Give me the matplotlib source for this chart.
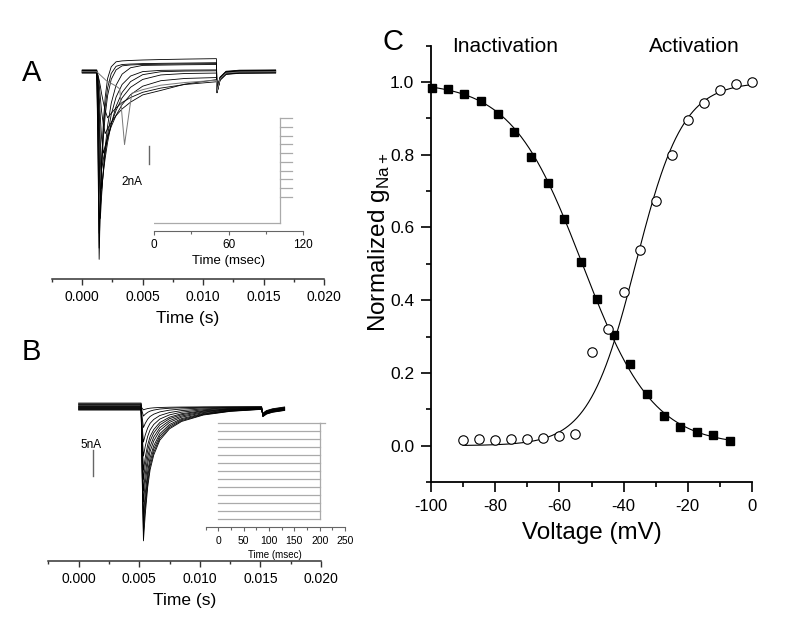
import matplotlib
matplotlib.use('Agg')
import matplotlib.pyplot as plt
import numpy as np
from matplotlib.ticker import MultipleLocator, FormatStrFormatter

plt.rcParams['font.family'] = ['Liberation Sans', 'DejaVu Sans']
plt.rcParams['axes.unicode_minus'] = False

# ---------------- panel A: activation currents (ms, nA) ----------------
a_grid_ms = [0, 1.2, 1.3, 1.4, 1.5, 1.6, 1.75, 1.9, 2.1, 2.4, 2.8, 3.3, 4.0, 5.0, 6.5, 8.5, 11.1]
a_traces = [
    [0, 0, -9.0, -21.0, -14.7, -10.2, -5.7, -3.0, -0.9, 0.4, 0.95, 1.05, 1.1, 1.15, 1.2, 1.25, 1.3],
    [0, 0, -7.0, -19.5, -14.4, -10.5, -6.5, -3.8, -1.7, -0.1, 0.7, 0.9, 0.95, 1.0, 1.03, 1.06, 1.1],
    [0, 0, -5.5, -18.0, -14.0, -10.9, -7.35, -4.9, -2.7, -0.9, 0.15, 0.6, 0.7, 0.75, 0.78, 0.82, 0.85],
    [0, 0, -3.0, -10.0, -16.5, -14.1, -11.0, -8.6, -6.2, -3.7, -1.7, -0.47, 0.24, 0.5, 0.53, 0.57, 0.6],
    [0, 0, -2.5, -8.5, -15.0, -13.2, -10.9, -8.95, -6.9, -4.6, -2.67, -1.27, -0.33, 0.16, 0.3, 0.33, 0.35],
    [0, 0, -1.8, -5.5, -10.0, -13.0, -11.2, -9.6, -7.85, -5.8, -3.85, -2.3, -1.1, -0.33, 0.0, 0.07, 0.1],
    [0, 0, -1.2, -4.0, -8.0, -11.0, -9.8, -8.7, -7.45, -5.9, -4.4, -3.0, -1.83, -0.96, -0.46, -0.3, -0.25],
    [0, 0, -0.8, -2.5, -5.0, -7.3, -9.0, -8.2, -7.25, -6.05, -4.8, -3.6, -2.5, -1.56, -0.95, -0.7, -0.6],
    [0, 0, -0.5, -1.5, -3.0, -4.5, -6.0, -7.0, -6.45, -5.75, -5.0, -4.25, -3.5, -2.7, -2.2, -1.5, -1.0],
    [0, 0, -0.3, -0.8, -1.5, -2.3, -3.3, -4.2, -5.0, -4.5, -3.9, -3.3, -2.75, -2.17, -1.7, -1.3, -1.0],
]
a_offset = [0.15, -0.1, 0.05, 0.2, -0.15, 0.0, 0.1, -0.05, 0.12, -0.12]
a_late_ms = [0, 1.2, 2.0, 2.8, 3.1, 3.5, 4.1, 5.0, 6.5, 8.5, 11.1]
a_late_na = [0, 0, -1.0, -1.6, -1.9, -8.1, -2.4, -2.0, -1.5, -1.2, -0.95]
a_tail_ms = [11.15, 11.4, 11.9, 13.0, 16.0]
a_tail_na = [-2.2, -0.8, -0.15, -0.03, 0.0]

# voltage protocol inset A (ms, mV)
a_hold = -120
a_step_on, a_step_off = 101, 111
a_steps = [-90, -80, -70, -60, -50, -40, -30, -20, -10, 0]

# ---------------- panel B: inactivation currents ----------------
b_amp = [-25.8, -24.3, -22.6, -20.8, -18.3, -16.2, -14.0, -12.2, -9.5, -6.8, -4.0, -1.8, -0.6]
b_offset = [0.7, 0.55, 0.4, 0.3, 0.15, 0.05, -0.05, -0.15, -0.25, -0.35, -0.45, -0.55, -0.65]
b_shape_ms = [5.16, 5.25, 5.35, 5.5, 5.7, 5.9, 6.2, 6.7, 7.5, 8.5, 10.3, 12.5, 15.1]
b_shape_f = [0, 0.55, 1.0, 0.8, 0.6, 0.47, 0.36, 0.25, 0.165, 0.11, 0.062, 0.035, 0.02]
b_tail_ms = [15.2, 15.5, 16.0, 17.0]
b_tail_na = [-1.6, -1.1, -0.75, -0.4]

# voltage protocol inset B
b_pre_end, b_test_end = 200, 210
b_levels = [-120, -110, -100, -90, -80, -70, -60, -50, -40, -30, -20, -10, 0]

# ---------------- panel C: normalized g_Na ----------------
inact_v = [-99.8, -94.8, -89.6, -84.4, -79.2, -74.1, -68.9, -63.7, -58.5, -53.4,
           -48.2, -43.1, -37.9, -32.7, -27.5, -22.3, -17.2, -12.0, -7.0]
inact_g = [0.984, 0.982, 0.968, 0.949, 0.912, 0.864, 0.794, 0.723, 0.624, 0.506,
           0.404, 0.304, 0.224, 0.142, 0.081, 0.052, 0.037, 0.030, 0.014]
act_v = [-90, -85, -80, -75, -70, -65, -60, -55, -50, -45,
         -40, -35, -30, -25, -20, -15, -10, -5, 0]
act_g = [0.016, 0.018, 0.016, 0.017, 0.019, 0.022, 0.026, 0.033, 0.257, 0.321,
         0.423, 0.538, 0.672, 0.800, 0.897, 0.943, 0.978, 0.994, 1.000]

W, H = 786, 629
fig = plt.figure(figsize=(W / 100, H / 100), dpi=100)


def px_axes(l, t, r, b):
    return fig.add_axes([l / W, 1 - b / H, (r - l) / W, (b - t) / H])


def trace_axes(ax):
    for s in ['top', 'right', 'left']:
        ax.spines[s].set_visible(False)
    ax.spines['bottom'].set_color('#333333')
    ax.spines['bottom'].set_linewidth(1.1)
    ax.yaxis.set_visible(False)
    ax.patch.set_visible(False)
    ax.set_xlim(-0.0025, 0.020)
    ax.xaxis.set_major_locator(MultipleLocator(0.005))
    ax.xaxis.set_minor_locator(MultipleLocator(0.0025))
    ax.xaxis.set_major_formatter(FormatStrFormatter('%.3f'))
    ax.tick_params(axis='x', which='major', length=4, width=1, color='#333333', labelsize=10, pad=4)
    ax.tick_params(axis='x', which='minor', length=2.5, width=1, color='#333333')
    ax.set_xlabel('Time (s)', fontsize=12.5, labelpad=5)


def inset_axes(ax, step, minor, fs_tick, fs_lab):
    for s in ['top', 'right', 'left']:
        ax.spines[s].set_visible(False)
    ax.spines['bottom'].set_color('#666666')
    ax.spines['bottom'].set_linewidth(0.8)
    ax.yaxis.set_visible(False)
    ax.patch.set_visible(False)
    ax.xaxis.set_major_locator(MultipleLocator(step))
    ax.xaxis.set_minor_locator(MultipleLocator(minor))
    ax.tick_params(axis='x', which='major', length=3, width=0.8, color='#666666', labelsize=fs_tick, pad=3)
    ax.tick_params(axis='x', which='minor', length=2, width=0.8, color='#666666')
    ax.set_xlabel('Time (msec)', fontsize=fs_lab, labelpad=3)


# ---- A ----
axA = px_axes(52, 40, 324, 279)
trace_axes(axA)
axA.set_ylim(-(279 - 71.7) / 9, (71.7 - 40) / 9)
for cur, off in zip(a_traces, a_offset):
    t = np.array(a_grid_ms + a_tail_ms) / 1000
    i = np.array(cur + a_tail_na) + off
    axA.plot(t, i, color='black', lw=0.6)
axA.plot(np.array(a_late_ms + a_tail_ms) / 1000, np.array(a_late_na + a_tail_na),
         color='#777777', lw=0.7)
axA.plot([0.0055, 0.0055], [-8.26, -10.26], color='#666666', lw=1.0)
axA.text(0.00411, -12.26, '2nA', fontsize=8.5, ha='center', va='center')

insA = px_axes(154, 110, 303.3, 230.7)
inset_axes(insA, 60, 30, 8.5, 9.5)
insA.set_xlim(0, 120)
insA.set_ylim(-129, 9.5)
insA.plot([0, a_step_on], [a_hold, a_hold], color='#aaaaaa', lw=0.9)
insA.plot([a_step_on, a_step_on], [a_hold, max(a_steps)], color='#aaaaaa', lw=0.9)
for v in a_steps:
    insA.plot([a_step_on, a_step_off], [v, v], color='#aaaaaa', lw=0.9)

# ---- B ----
axB = px_axes(48.3, 385, 321, 561)
trace_axes(axB)
axB.set_ylim(-(561 - 406.7) / 5.2, (406.7 - 385) / 5.2)
for amp, off in zip(b_amp, b_offset):
    t = np.array([0.0, b_shape_ms[0]] + b_shape_ms + b_tail_ms) / 1000
    i = np.concatenate([[off, off], amp * np.array(b_shape_f), np.array(b_tail_na) + 0.5 * off])
    axB.plot(t, i, color='black', lw=0.6)
axB.plot([0.00119, 0.00119], [-8.3, -13.3], color='#666666', lw=1.0)
axB.text(0.00105, -7.4, '5nA', fontsize=8.5, ha='center', va='center')

insB = px_axes(205.6, 415, 345, 527.3)
inset_axes(insB, 50, 25, 7.5, 7)
insB.set_xlim(-25, 250)
insB.set_ylim(-130, 10.4)
for v in b_levels:
    insB.plot([0, b_pre_end], [v, v], color='#aaaaaa', lw=0.9)
insB.plot([b_pre_end, b_pre_end], [min(b_levels), max(b_levels)], color='#aaaaaa', lw=0.9)
insB.plot([b_pre_end, b_test_end], [max(b_levels), max(b_levels)], color='#aaaaaa', lw=0.9)

# ---- C ----
axC = px_axes(431, 45.7, 752, 482)
axC.set_xlim(-100, 0)
axC.set_ylim(-0.1, 1.1)
for s in ['top', 'right']:
    axC.spines[s].set_visible(False)
for s in ['left', 'bottom']:
    axC.spines[s].set_linewidth(1.3)
axC.xaxis.set_major_locator(MultipleLocator(20))
axC.xaxis.set_minor_locator(MultipleLocator(10))
axC.yaxis.set_major_locator(MultipleLocator(0.2))
axC.yaxis.set_minor_locator(MultipleLocator(0.1))
axC.yaxis.set_major_formatter(FormatStrFormatter('%.1f'))
axC.tick_params(which='major', length=7, width=1.2, pad=5)
axC.tick_params(which='minor', length=3.5, width=1.2)
axC.tick_params(axis='x', labelsize=12)
axC.tick_params(axis='y', labelsize=12.5)

# Boltzmann fits via logit-linear regression
iv = np.array(inact_v)
ig = np.array(inact_g)
pi = np.polyfit(iv, np.log(1 / ig - 1), 1)
vfit_i = np.linspace(min(inact_v), max(inact_v), 300)
axC.plot(vfit_i, 1 / (1 + np.exp(np.polyval(pi, vfit_i))), color='black', lw=0.8)

av = np.array(act_v)
ag = np.array(act_g)
sel = (av >= -40) & (ag < 0.99)
pa = np.polyfit(av[sel], np.log(1 / ag[sel] - 1), 1)
vfit_a = np.linspace(min(act_v), max(act_v), 300)
axC.plot(vfit_a, 1 / (1 + np.exp(np.polyval(pa, vfit_a))), color='black', lw=0.8)

axC.plot(inact_v, inact_g, 's', color='black', ms=5.8, clip_on=False)
axC.plot(act_v, act_g, 'o', mfc='white', mec='black', mew=0.8, ms=6.8, clip_on=False)

axC.set_xlabel('Voltage (mV)', fontsize=17.5, labelpad=6)
axC.set_ylabel(r'Normalized g$_{\mathregular{Na+}}$', fontsize=17.5)
axC.yaxis.set_label_coords(-0.12, 0.55)

fig.text(505 / W, 1 - 46.7 / H, 'Inactivation', fontsize=15, ha='center', va='center')
fig.text(694 / W, 1 - 46.7 / H, 'Activation', fontsize=15, ha='center', va='center')

fig.text(32 / W, 1 - 73 / H, 'A', fontsize=21, ha='center', va='center')
fig.text(31 / W, 1 - 352 / H, 'B', fontsize=21, ha='center', va='center')
fig.text(393 / W, 1 - 42 / H, 'C', fontsize=21, ha='center', va='center')

fig.savefig('out.png', dpi=100)
